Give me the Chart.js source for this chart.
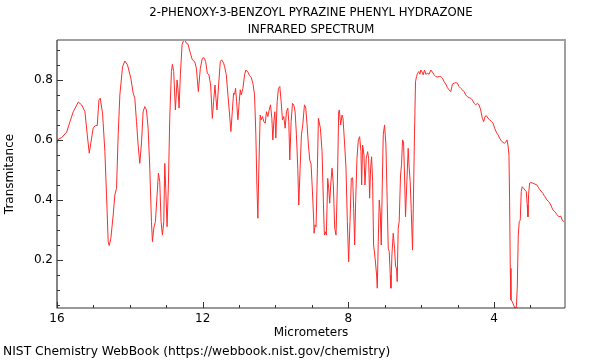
<!DOCTYPE html>
<html><head><meta charset="utf-8">
<script src="https://cdn.jsdelivr.net/npm/chart.js@4/dist/chart.umd.min.js"></script>
<style>html,body{margin:0;padding:0;background:#fff}#wrap{width:600px;height:360px}</style>
</head><body><div id="wrap"><canvas id="c" width="600" height="360"></canvas></div>
<script>
const titleLines = ["2-PHENOXY-3-BENZOYL PYRAZINE PHENYL HYDRAZONE", "INFRARED SPECTRUM"];
const xAxisTitle = "Micrometers";
const yAxisTitle = "Transmitance";
const footerText = "NIST Chemistry WebBook (https://webbook.nist.gov/chemistry)";
const xLabelValues = [16, 12, 8, 4];
const yLabelValues = [0.2, 0.4, 0.6, 0.8];

const micrometers = [
16.0,15.96,15.87,15.735,15.644,15.553,15.416,15.324,15.233,15.169,15.114,15.05,15.005,14.94,14.895,14.849,14.813,14.749,14.685,14.64,14.594,14.566,14.521,14.457,14.411,14.365,14.32,14.274,14.2,14.137,14.064,13.973,13.909,13.863,13.817,13.772,13.726,
13.68,13.635,13.589,13.543,13.498,13.452,13.406,13.379,13.342,13.297,13.251,13.215,13.178,13.142,13.105,13.068,13.041,13.014,12.977,12.941,12.904,12.858,12.831,12.795,12.749,12.703,12.676,12.648,12.612,12.566,12.521,12.475,12.447,12.402,12.338,12.283,12.219,12.173,12.119,12.064,12.009,11.964,11.918,11.872,11.827,11.781,11.735,11.699,11.662,11.635,11.607,11.562,11.516,11.479,11.425,
11.397,11.351,11.306,11.26,11.224,11.187,11.151,11.123,11.096,11.068,11.032,10.995,10.968,10.941,10.895,10.849,10.813,10.758,10.712,10.667,10.621,10.575,10.539,10.511,10.484,10.457,10.42,10.393,10.356,10.32,10.283,10.247,10.21,10.173,10.137,10.10,10.073,10.046,10.018,9.991,9.954,9.918,9.881,9.845,9.808,9.772,9.735,9.699,9.662,9.635,9.607,9.571,9.534,9.498,9.461,9.425,9.388,9.361,9.324,9.288,9.251,9.205,9.169,9.132,9.096,9.059,
9.023,8.986,8.95,8.941,8.913,8.886,8.849,8.822,8.767,8.721,8.685,8.658,8.63,8.603,8.566,8.539,8.511,8.484,8.447,8.411,8.374,8.338,8.301,8.265,8.247,8.21,8.173,8.146,8.10,8.064,8.027,7.991,7.954,7.918,7.881,7.854,7.826,7.799,7.762,7.726,7.689,7.653,7.634,7.607,7.571,7.543,7.507,7.47,7.443,7.415,7.388,7.361,7.333,7.306,7.26,7.224,7.205,7.178,7.151,7.123,7.096,7.068,7.041,7.005,6.968,6.932,6.904,6.877,6.849,6.831,6.803,6.767,6.731,
6.703,6.676,6.658,6.63,6.603,6.566,6.539,6.511,6.484,6.457,6.429,6.393,6.356,6.329,6.301,6.274,6.237,6.21,6.183,6.155,6.128,6.10,6.064,6.036,6.009,5.973,5.945,5.909,5.872,5.827,5.781,5.735,5.689,5.644,5.598,5.553,5.507,5.461,5.416,5.37,5.324,5.279,5.233,5.187,5.142,5.096,5.05,5.005,4.959,4.913,4.868,4.822,4.776,4.731,4.685,4.639,4.593,4.548,4.502,4.456,
4.411,4.365,4.32,4.283,4.247,4.21,4.164,4.119,4.064,4.027,3.982,3.936,3.89,3.845,3.799,3.753,3.717,3.68,3.644,3.616,3.589,3.571,3.553,3.534,3.498,3.461,3.425,3.388,3.361,3.333,3.306,3.279,3.251,3.224,3.187,3.151,3.114,3.087,3.068,3.05,3.023,2.986,2.932,2.877,2.822,2.767,2.712,2.658,2.603,2.548,2.493,2.438,2.384,2.329,2.274,2.219,2.164,2.128,2.082,2.05
];
const transmittance = [
0.589,0.603,0.608,0.626,0.661,0.694,0.726,0.717,0.694,0.617,0.556,0.606,0.641,0.648,0.648,0.733,0.739,0.689,0.561,0.417,0.261,0.248,0.272,0.35,0.417,0.439,0.617,0.75,0.844,0.863,0.85,0.806,0.756,0.739,0.661,0.583,0.522,
0.59,0.694,0.711,0.70,0.639,0.506,0.328,0.261,0.306,0.328,0.417,0.489,0.461,0.328,0.283,0.328,0.522,0.439,0.311,0.45,0.672,0.828,0.852,0.828,0.70,0.80,0.767,0.706,0.817,0.917,0.933,0.93,0.922,0.919,0.889,0.867,0.861,0.839,0.761,0.839,0.872,0.874,0.861,0.822,0.817,0.783,0.672,0.728,0.783,0.739,0.70,0.783,0.861,0.867,0.856,
0.844,0.817,0.75,0.683,0.628,0.694,0.756,0.752,0.772,0.728,0.667,0.728,0.767,0.75,0.772,0.817,0.833,0.826,0.814,0.808,0.789,0.75,0.617,0.45,0.339,0.506,0.683,0.667,0.678,0.661,0.656,0.694,0.678,0.70,0.717,0.672,0.60,0.661,0.694,0.606,0.728,0.772,0.778,0.728,0.667,0.678,0.639,0.694,0.706,0.661,0.533,0.661,0.722,0.717,0.694,0.617,0.506,0.383,0.506,0.617,0.65,0.717,0.706,0.65,0.583,0.533,
0.52,0.43,0.33,0.289,0.317,0.311,0.506,0.672,0.639,0.561,0.394,0.283,0.294,0.283,0.472,0.439,0.389,0.45,0.506,0.45,0.306,0.283,0.45,0.694,0.70,0.65,0.683,0.672,0.583,0.506,0.328,0.194,0.328,0.472,0.474,0.372,0.25,0.394,0.539,0.60,0.611,0.561,0.45,0.583,0.55,0.45,0.539,0.561,0.539,0.406,0.506,0.544,0.461,0.25,0.20,0.15,0.106,0.261,0.40,0.361,0.25,0.45,0.617,0.65,0.583,0.394,0.239,0.228,0.15,0.106,0.217,0.289,0.239,
0.18,0.17,0.128,0.306,0.328,0.483,0.517,0.60,0.594,0.483,0.344,0.461,0.572,0.506,0.461,0.372,0.233,0.417,0.617,0.794,0.811,0.822,0.828,0.819,0.833,0.826,0.817,0.833,0.819,0.822,0.819,0.833,0.826,0.817,0.811,0.81,0.811,0.811,0.806,0.794,0.786,0.774,0.767,0.761,0.786,0.789,0.791,0.789,0.778,0.772,0.767,0.761,0.75,0.744,0.741,0.739,0.733,0.722,0.717,0.722,
0.717,0.70,0.672,0.661,0.678,0.681,0.672,0.667,0.661,0.656,0.639,0.626,0.617,0.606,0.597,0.592,0.589,0.592,0.60,0.583,0.55,0.394,0.172,0.067,0.061,0.05,0.04,0.04,0.106,0.283,0.328,0.333,0.428,0.444,0.439,0.433,0.428,0.383,0.344,0.417,0.456,0.458,0.456,0.453,0.45,0.439,0.43,0.422,0.411,0.40,0.394,0.383,0.367,0.361,0.352,0.344,0.346,0.333,0.328,0.322
];

const FONT = "'DejaVu Sans', sans-serif";
const near = (v, arr) => arr.some(a => Math.abs(a - v) < 1e-6);

const framePlugin = {
  id: 'frame',
  afterDraw(chart) {
    const {ctx, chartArea: a, scales} = chart;
    ctx.save();
    ctx.strokeStyle = '#a0a0a0';
    ctx.lineWidth = 2;
    ctx.beginPath();
    ctx.moveTo(a.left, a.top); ctx.lineTo(a.right, a.top); ctx.lineTo(a.right, a.bottom);
    ctx.stroke();
    ctx.strokeStyle = '#333';
    ctx.lineWidth = 1.2;
    ctx.beginPath();
    ctx.moveTo(a.left, a.top); ctx.lineTo(a.left, a.bottom); ctx.lineTo(a.right, a.bottom);
    ctx.stroke();
    ctx.lineWidth = 1;
    ctx.beginPath();
    scales.x.ticks.forEach(t => {
      const px = Math.round(scales.x.getPixelForValue(t.value)) + 0.5;
      const len = near(t.value, xLabelValues) ? 6 : 3;
      ctx.moveTo(px, a.bottom); ctx.lineTo(px, a.bottom - len);
    });
    scales.y.ticks.forEach(t => {
      const py = Math.round(scales.y.getPixelForValue(t.value)) + 0.5;
      const len = near(t.value, yLabelValues) ? 6 : 3;
      ctx.moveTo(a.left, py); ctx.lineTo(a.left + len, py);
    });
    ctx.stroke();
    ctx.fillStyle = '#000';
    ctx.font = '11.7px ' + FONT;
    ctx.textAlign = 'center';
    ctx.textBaseline = 'middle';
    const cx = (a.left + a.right) / 2;
    ctx.fillText(titleLines[0], cx, 13);
    ctx.fillText(titleLines[1], cx, 30);
    ctx.font = '12.3px ' + FONT;
    ctx.textAlign = 'left';
    ctx.fillText(footerText, 3, 352);
    ctx.restore();
  }
};

new Chart(document.getElementById('c'), {
  type: 'line',
  data: {
    datasets: [{
      data: micrometers.map((x, i) => ({x: x, y: transmittance[i]})),
      borderColor: '#ff2a2a',
      borderWidth: 1,
      pointRadius: 0,
      tension: 0,
      fill: false
    }]
  },
  options: {
    responsive: false,
    animation: false,
    events: [],
    layout: {padding: {top: 40, right: 35, bottom: 0, left: 0}},
    plugins: {legend: {display: false}, tooltip: {enabled: false}, title: {display: false}},
    scales: {
      x: {
        type: 'linear', reverse: true, min: 2.05, max: 16,
        afterFit(s) { s.height = 52; },
        border: {display: false},
        grid: {display: false, drawTicks: false},
        ticks: {
          stepSize: 1, autoSkip: false, includeBounds: false, maxRotation: 0, padding: 4,
          color: '#000', font: {family: FONT, size: 12},
          callback: v => near(v, xLabelValues) ? String(v) : ''
        },
        title: {display: true, text: xAxisTitle, color: '#000', font: {family: FONT, size: 12}, padding: {top: 0, bottom: 20}}
      },
      y: {
        type: 'linear', min: 0.04, max: 0.933,
        afterFit(s) { s.width = 57; },
        border: {display: false},
        grid: {display: false, drawTicks: false},
        ticks: {
          stepSize: 0.05, autoSkip: false, includeBounds: false, padding: 4,
          color: '#000', font: {family: FONT, size: 12},
          callback: v => near(v, yLabelValues) ? v.toFixed(1) : ''
        },
        title: {display: true, text: yAxisTitle, color: '#000', font: {family: FONT, size: 12}, padding: {top: 3, bottom: 0}}
      }
    }
  },
  plugins: [framePlugin]
});
</script>
</body></html>
